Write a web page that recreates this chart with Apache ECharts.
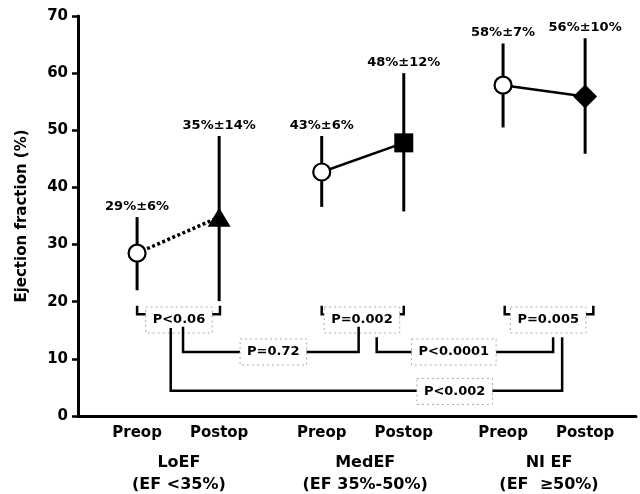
<!DOCTYPE html>
<html>
<head>
<meta charset="utf-8">
<title>Ejection fraction by group</title>
<script src="https://cdn.jsdelivr.net/npm/echarts@6/dist/echarts.min.js"></script>
<style>
html, body { margin: 0; padding: 0; background: #fff; }
#chart { width: 640px; height: 494px; }
</style>
</head>
<body>
<div id="chart"></div>
<script>
// points: LoEF pre/post, MedEF pre/post, Nl EF pre/post
const phases = ['Preop', 'Postop', 'Preop', 'Postop', 'Preop', 'Postop'];
const xPos = [0.72, 1.72, 2.97, 3.97, 5.18, 6.18];
const means = [28.5, 34.8, 42.7, 47.8, 57.9, 55.9];
const lows = [22.0, 20.1, 36.6, 35.8, 50.5, 45.9];
const highs = [34.8, 49.0, 49.0, 60.0, 65.2, 66.1];
const valueLabels = ['29%\u00b16%', '35%\u00b114%', '43%\u00b16%', '48%\u00b112%', '58%\u00b17%', '56%\u00b110%'];

const groupNames = ['LoEF', 'MedEF', 'NI EF'];
const groupRanges = ['(EF <35%)', '(EF 35%-50%)', '(EF  \u226550%)'];
const groupX = [1.23, 3.50, 5.74];

// comparison brackets
const pLabels = ['P<0.06', 'P=0.002', 'P=0.005', 'P=0.72', 'P<0.0001', 'P<0.002'];
const bracketLeft = [0.72, 2.97, 5.20, 1.28, 3.64, 1.13];
const bracketRight = [1.73, 3.97, 6.28, 3.42, 5.79, 5.90];
const bracketBase = [17.8, 17.8, 17.8, 11.2, 11.2, 4.4];
const bracketTopL = [19.3, 19.3, 19.3, 15.6, 13.8, 15.4];
const bracketTopR = [19.3, 19.3, 19.3, 15.6, 13.8, 13.8];
const labelX = [1.23, 3.46, 5.73, 2.38, 4.58, 4.59];
const labelY = [16.8, 16.8, 16.8, 11.2, 11.2, 4.3];

const FONT = '"DejaVu Sans", sans-serif';
const measure = document.createElement('canvas').getContext('2d');
measure.font = 'bold 13px ' + FONT;

const markerSymbols = ['circle', 'triangle', 'circle', 'rect', 'circle', 'diamond'];
const markerSizes = [17, [23, 19], 17, 19, 17, [24, 24]];
const markers = xPos.map((x, i) => ({
  value: [x, means[i]],
  symbol: markerSymbols[i],
  symbolSize: markerSizes[i],
  itemStyle: markerSymbols[i] === 'circle'
    ? { color: '#fff', borderColor: '#000', borderWidth: 2.2, opacity: 1 }
    : { color: '#000', borderWidth: 0, opacity: 1 },
}));

const chart = echarts.init(document.getElementById('chart'), null, { renderer: 'canvas' });
chart.setOption({
  animation: false,
  backgroundColor: '#fff',
  textStyle: { fontFamily: FONT, color: '#000' },
  grid: { left: 78, right: 4, top: 16, bottom: 78 },
  xAxis: {
    type: 'value',
    min: 0,
    max: 6.8,
    axisLine: { show: true, lineStyle: { color: '#000', width: 3 } },
    axisTick: { show: false },
    axisLabel: { show: false },
    splitLine: { show: false },
  },
  yAxis: {
    type: 'value',
    min: 0,
    max: 70,
    interval: 10,
    name: 'Ejection fraction (%)',
    nameLocation: 'middle',
    nameGap: 48,
    nameTextStyle: { fontFamily: FONT, fontWeight: 'bold', fontSize: 15, color: '#000' },
    axisLine: { show: true, lineStyle: { color: '#000', width: 3 } },
    axisTick: { show: true, length: 6, lineStyle: { color: '#000', width: 2.5 } },
    axisLabel: { fontFamily: FONT, fontWeight: 'bold', fontSize: 15, color: '#000', margin: 10 },
    splitLine: { show: false },
  },
  series: [
    {
      name: 'errorbars',
      type: 'custom',
      z: 1,
      clip: false,
      data: xPos.map((x, i) => [x, lows[i], highs[i]]),
      renderItem: (params, api) => {
        const i = params.dataIndex;
        const lo = api.coord([xPos[i], lows[i]]);
        const hi = api.coord([xPos[i], highs[i]]);
        return {
          type: 'group',
          children: [
            { type: 'line', shape: { x1: lo[0], y1: lo[1], x2: hi[0], y2: hi[1] },
              style: { stroke: '#000', lineWidth: 3 } },
            { type: 'text', x: hi[0], y: hi[1] - 4,
              style: { text: valueLabels[i], fill: '#000', font: 'bold 13px ' + FONT,
                       align: 'center', verticalAlign: 'bottom' } },
          ],
        };
      },
    },
    ...[0, 1, 2].map(g => ({
      name: groupNames[g],
      type: 'line',
      z: 2,
      symbol: 'none',
      data: [[xPos[2 * g], means[2 * g]], [xPos[2 * g + 1], means[2 * g + 1]]],
      lineStyle: { color: '#000', width: g === 0 ? 3.5 : 2.5, type: g === 0 ? [3, 2.5] : 'solid' },
    })),
    {
      name: 'means',
      type: 'scatter',
      z: 3,
      data: markers,
    },
    {
      name: 'brackets',
      type: 'custom',
      z: 4,
      clip: false,
      data: pLabels.map((p, i) => [labelX[i], labelY[i]]),
      renderItem: (params, api) => {
        const i = params.dataIndex;
        const l0 = api.coord([bracketLeft[i], bracketTopL[i]]);
        const l1 = api.coord([bracketLeft[i], bracketBase[i]]);
        const r1 = api.coord([bracketRight[i], bracketBase[i]]);
        const r0 = api.coord([bracketRight[i], bracketTopR[i]]);
        const c = api.coord([labelX[i], labelY[i]]);
        const w = measure.measureText(pLabels[i]).width + 14;
        const h = 26;
        return {
          type: 'group',
          children: [
            { type: 'polyline', shape: { points: [l0, l1, r1, r0] },
              style: { stroke: '#000', lineWidth: 2.5, fill: null } },
            { type: 'rect', shape: { x: c[0] - w / 2, y: c[1] - h / 2, width: w, height: h },
              style: { fill: '#fff', stroke: '#aaa', lineWidth: 1, lineDash: [2, 3] } },
            { type: 'text', x: c[0], y: c[1],
              style: { text: pLabels[i], fill: '#000', font: 'bold 13px ' + FONT,
                       align: 'center', verticalAlign: 'middle' } },
          ],
        };
      },
    },
    {
      name: 'phaseLabels',
      type: 'custom',
      clip: false,
      data: xPos.map(x => [x, 0]),
      renderItem: (params, api) => {
        const p = api.coord([xPos[params.dataIndex], 0]);
        return { type: 'text', x: p[0], y: p[1] + 17,
                 style: { text: phases[params.dataIndex], fill: '#000', font: 'bold 15px ' + FONT,
                          align: 'center', verticalAlign: 'middle' } };
      },
    },
    {
      name: 'groupLabels',
      type: 'custom',
      clip: false,
      data: groupX.map(x => [x, 0]),
      renderItem: (params, api) => {
        const i = params.dataIndex;
        const p = api.coord([groupX[i], 0]);
        return {
          type: 'group',
          children: [
            { type: 'text', x: p[0], y: p[1] + 47,
              style: { text: groupNames[i], fill: '#000', font: 'bold 16px ' + FONT,
                       align: 'center', verticalAlign: 'middle' } },
            { type: 'text', x: p[0], y: p[1] + 69,
              style: { text: groupRanges[i], fill: '#000', font: 'bold 16px ' + FONT,
                       align: 'center', verticalAlign: 'middle' } },
          ],
        };
      },
    },
  ],
});
</script>
</body>
</html>
